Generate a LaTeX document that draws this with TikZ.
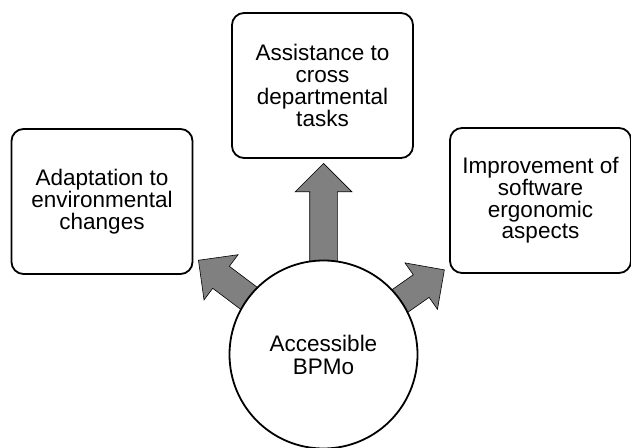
\documentclass[tikz,border=0pt]{standalone}
\usepackage{fontspec}
\setmainfont{Liberation Sans}
\usetikzlibrary{shapes.arrows,calc}

\begin{document}
\begin{tikzpicture}[
    x=1pt, y=1pt,
    box/.style={rectangle, draw, line width=1.8pt, rounded corners=12pt, fill=white, minimum width=181pt, minimum height=145pt, align=center, font=\fontsize{22.5}{21.7}\selectfont},
    hub/.style={circle, draw, line width=1.8pt, fill=white, minimum size=188pt, align=center, font=\fontsize{22.5}{23}\selectfont},
    blockarrow/.style={single arrow, draw, line width=0.6pt, fill=gray, minimum width=56pt, single arrow head extend=14.5pt, inner xsep=0pt, inner ysep=13.5pt, anchor=tip}
]
    \useasboundingbox (0,0) rectangle (631,447);

    % Centro del cerchio
    \coordinate (c) at (323.5,92.5);

    % Frecce dal centro verso i riquadri
    \node[blockarrow, minimum height=111.5pt, rotate=90] (uparrow) at ($(c)+(90:191.5pt)$) {};
    \node[blockarrow, minimum height=77pt, rotate=143] (leftarrow) at ($(c)+(143:157pt)$) {};
    \node[blockarrow, minimum height=68pt, rotate=35] (rightarrow) at ($(c)+(35:148pt)$) {};

    % Cerchio centrale
    \node[hub] (bpmo) at (c) {Accessible\\BPMo};

    % Riquadri
    \node[box] (tasks) at (322.5,361.5) {Assistance to\\cross\\departmental\\tasks};
    \node[box] (adapt) at (102,245.5) {Adaptation to\\environmental\\changes};
    \node[box] (ergo) at (540.5,246.5) {Improvement of\\software\\ergonomic\\aspects};
\end{tikzpicture}
\end{document}
